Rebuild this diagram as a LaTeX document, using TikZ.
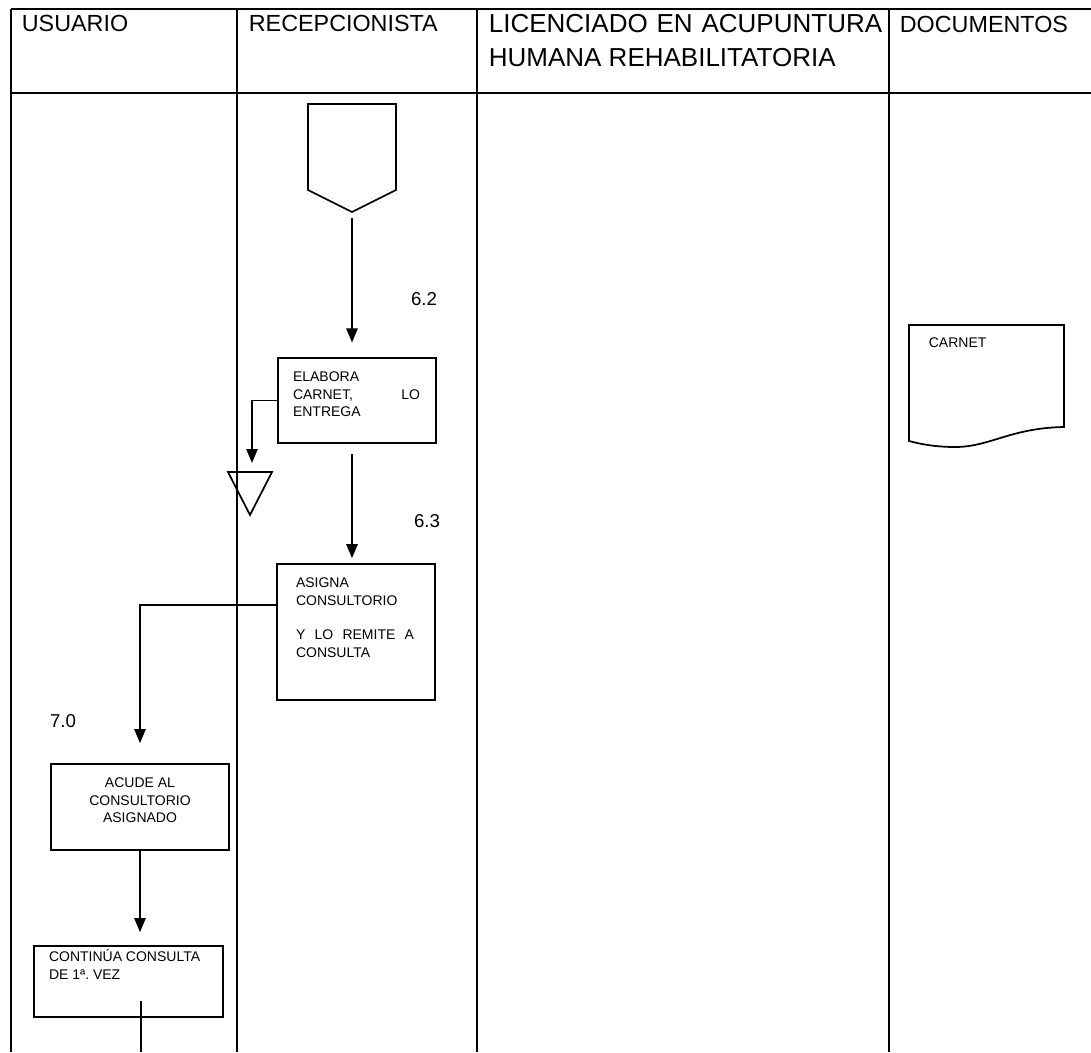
\documentclass[tikz,border=0pt]{standalone}
\usepackage{fontspec}
\setmainfont{Liberation Sans}
\usetikzlibrary{arrows.meta}
\frenchspacing

\tikzset{every picture/.style={line width=1.3pt}}
\tikzset{
	caja/.style={draw, inner sep=0pt, font=\fontsize{10.5}{13}\selectfont},
	flecha/.style={-{Triangle[length=10.5pt,width=8.5pt]}},
	encabezado/.style={inner sep=0pt, font=\fontsize{17.5}{21}\selectfont},
	paso/.style={inner sep=0pt, font=\fontsize{14}{16}\selectfont}
}
% width, height, top gap, left inset, right inset, text
\newcommand{\contenido}[6]{\parbox[c][#2][t]{#1}{\vspace*{#3}\leftskip=#4\rightskip=#5\parindent=0pt #6}}

\begin{document}
\begin{tikzpicture}[x=0.75pt,y=0.75pt,yscale=-1,xscale=1]
	\useasboundingbox (0,0) rectangle (1091,1052);

	%Table lines
	\draw (11,9) -- (1091,9);
	\draw (11,93) -- (1091,93);
	\foreach \x in {11,237,477,889}
		\draw (\x,9) -- (\x,1052);

	% Text Node
	\node[encabezado, anchor=base west] (usuario) at (21,32) {USUARIO};
	% Text Node
	\node[encabezado, anchor=base west] (recepcion) at (248,32) {RECEPCIONISTA};
	% Text Node
	\node[encabezado, anchor=north west, align=left, font=\fontsize{19.5}{25.5}\selectfont] (licenciado) at (488,13) {\makebox[295pt][s]{LICENCIADO EN ACUPUNTURA}\\HUMANA REHABILITATORIA};
	% Text Node
	\node[encabezado, anchor=base west] (documentos) at (899,33) {DOCUMENTOS};

	%Shape: Off-page connector
	\draw (308,104) -- (396,104) -- (396,190) -- (352,212) -- (308,190) -- cycle;
	\coordinate (conector) at (352,212);

	%Shape: Boxes
	\node[caja] (elabora) at (357,400.5) {\contenido{118.5pt}{63.75pt}{10.5pt}{11.25pt}{12pt}{ELABORA\\CARNET,\hfill LO\\ENTREGA}};
	\node[caja] (asigna) at (356,632) {\contenido{118.5pt}{102pt}{10.5pt}{14.25pt}{15.75pt}{ASIGNA\\CONSULTORIO\\[13pt]Y\hfill LO\hfill REMITE\hfill A\\CONSULTA}};
	\node[caja] (acude) at (140,807) {\contenido{133.5pt}{64.5pt}{10.5pt}{0pt}{0pt}{\centering ACUDE AL\\CONSULTORIO\\ASIGNADO}};
	\node[caja] (continua) at (128.5,981.5) {\contenido{141.75pt}{53.25pt}{2.7pt}{11.25pt}{0pt}{CONTINÚA CONSULTA\\DE 1ª. VEZ}};

	%Shape: Archive triangle
	\draw (228,472) -- (272,472) -- (250,515) -- cycle;
	\coordinate (archivo) at (252,472);

	%Shape: Document
	\draw (909,325) -- (1064,325) -- (1064,427) .. controls (1010,428) and (990,447) .. (955,447) .. controls (935,447) and (920,444) .. (909,441) -- cycle;
	\node[anchor=west, inner sep=0pt, font=\fontsize{10.5}{13}\selectfont] (carnet) at (928,343) {CARNET};

	%Straight Lines
	\draw[flecha, shorten <=4.5pt, shorten >=11pt] (conector) -- (conector |- elabora.north);
	\draw[flecha, shorten <=7.5pt, shorten >=3.75pt] (elabora.south -| conector) -- (asigna.north -| conector);
	\draw[flecha, shorten >=6.75pt] (elabora.west) -| (archivo);
	\path (asigna.north west) ++(0,42) coordinate (salida);
	\draw[flecha, shorten >=15pt] (salida) -| (acude.north);
	\draw[flecha, shorten >=9.75pt] (acude.south) -- (acude.south |- continua.north);
	\coordinate (sigue) at (141,1052);
	\path (continua.south -| sigue) ++(0,-17) coordinate (dentro);
	\draw (dentro) -- (sigue);

	% Text Node
	\node[paso] (p62) at (424,299) {6.2};
	% Text Node
	\node[paso] (p63) at (427,521) {6.3};
	% Text Node
	\node[paso] (p70) at (63,721) {7.0};

\end{tikzpicture}
\end{document}
